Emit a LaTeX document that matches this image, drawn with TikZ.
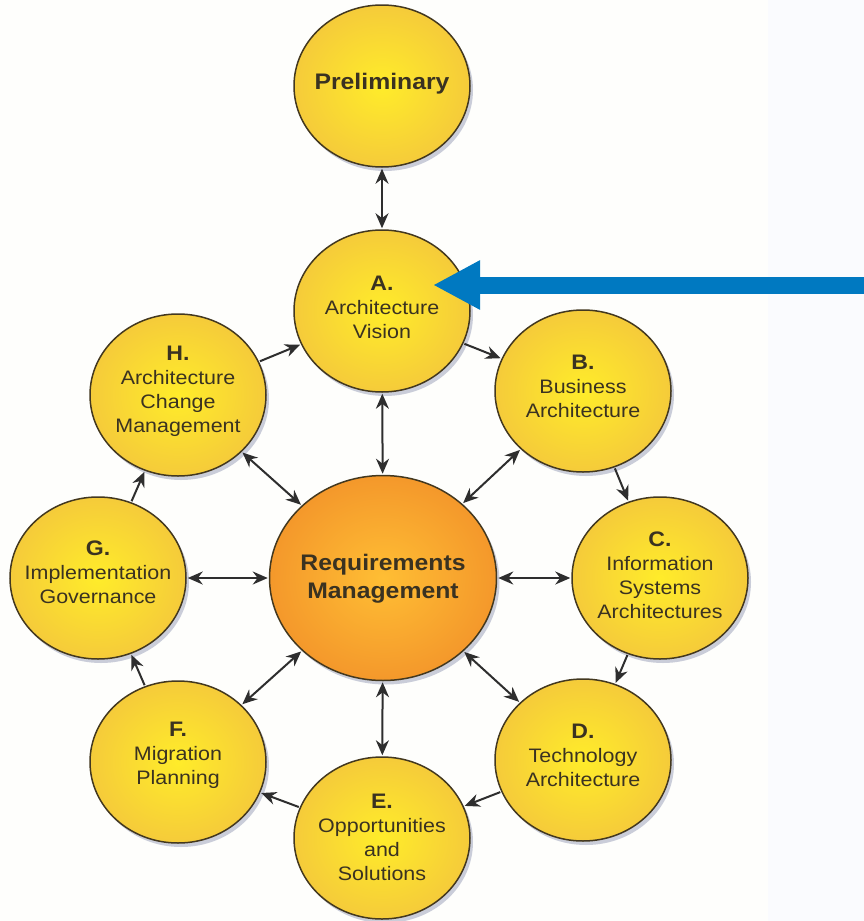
\documentclass[tikz,border=0pt]{standalone}
\usepackage{fontspec}
\setmainfont{Liberation Sans}[FakeStretch=1.1]
\usetikzlibrary{shapes.geometric,arrows.meta,shadows}
\definecolor{txt}{HTML}{3A3221}
\definecolor{rim}{HTML}{43381F}
\definecolor{yin}{HTML}{FFEC2A}
\definecolor{yout}{HTML}{F5CB3A}
\definecolor{oin}{HTML}{FFBE34}
\definecolor{oout}{HTML}{F4982B}
\definecolor{arr}{HTML}{2E2E2E}
\definecolor{bluearr}{HTML}{0079C1}
\definecolor{bgleft}{HTML}{FEFEFC}
\definecolor{bgright}{HTML}{FAFBFE}
\definecolor{shad}{HTML}{7C84A6}
\begin{document}
\begin{tikzpicture}[x=1pt,y=-1pt,
  phase/.style={ellipse, draw=rim, line width=1.5pt, minimum width=176pt, minimum height=162pt,
    inner sep=0pt, shading=radial, inner color=yin, outer color=yout,
    drop shadow={shadow xshift=3pt, shadow yshift=-4pt, fill=shad, opacity=0.4}},
  core/.style={phase, minimum width=227pt, minimum height=205pt, inner color=oin, outer color=oout},
  label/.style={text=txt, align=center, font=\fontsize{19.5}{24}\selectfont, inner sep=0pt},
  biglabel/.style={text=txt, align=center, font=\fontsize{22.5}{28}\selectfont\bfseries, inner sep=0pt},
  flow/.style={draw=arr, line width=2pt, -{Stealth[length=15pt,width=13pt]}, shorten <=1pt, shorten >=1pt},
  both/.style={flow, {Stealth[length=15pt,width=13pt]}-{Stealth[length=15pt,width=13pt]}},
  bluearrow/.style={draw=bluearr, line width=17pt, -{Triangle[length=47pt,width=46pt]}}
  ]
\newcommand{\lett}[1]{{\fontsize{21}{24}\selectfont\bfseries #1}}
\useasboundingbox (0,0) rectangle (864,921);
\fill[bgleft] (0,0) rectangle (768,921);
\fill[bgright] (768,0) rectangle (864,921);

% circles
\node[phase] (pre) at (382,86) {};
\node[phase] (a) at (382,311) {};
\node[phase] (b) at (583,391) {};
\node[phase] (c) at (660,578) {};
\node[phase] (d) at (583,760) {};
\node[phase] (e) at (382,838) {};
\node[phase] (f) at (178,762) {};
\node[phase] (g) at (98,578) {};
\node[phase] (h) at (178,395) {};
\node[core] (rm) at (383,578) {};

% texts
\node[biglabel] (tpre) at (382,84) {Preliminary};
\node[label] (ta) at (382,307) {\lett{A.}\\Architecture\\Vision};
\node[label] (tb) at (583,386) {\lett{B.}\\Business\\Architecture};
\node[label] (tc) at (660,575) {\lett{C.}\\Information\\Systems\\Architectures};
\node[label] (td) at (583,755) {\lett{D.}\\Technology\\Architecture};
\node[label] (te) at (382,837) {\lett{E.}\\Opportunities\\and\\Solutions};
\node[label] (tf) at (178,755) {\lett{F.}\\Migration\\Planning};
\node[label] (tg) at (98,572) {\lett{G.}\\Implementation\\Governance};
\node[label] (th) at (178,391) {\lett{H.}\\Architecture\\Change\\Management};
\node[biglabel] (trm) at (383,579) {Requirements\\Management};

% cycle
\draw[both] (pre) -- (a);
\draw[flow] (a) -- (b);
\draw[flow] (b) -- (c);
\draw[flow] (c) -- (d);
\draw[flow] (d) -- (e);
\draw[flow] (e) -- (f);
\draw[flow] (f) -- (g);
\draw[flow] (g) -- (h);
\draw[flow] (h) -- (a);

% requirements links
\draw[both] (rm) -- (a);
\draw[both] (rm) -- (b);
\draw[both] (rm) -- (c);
\draw[both] (rm) -- (d);
\draw[both] (rm) -- (e);
\draw[both] (rm) -- (f);
\draw[both] (rm) -- (g);
\draw[both] (rm) -- (h);

% blue pointer
\coordinate (bluestart) at (870,285);
\coordinate (bluetip) at (433,285);
\draw[bluearrow] (bluestart) -- (bluetip);
\end{tikzpicture}
\end{document}
